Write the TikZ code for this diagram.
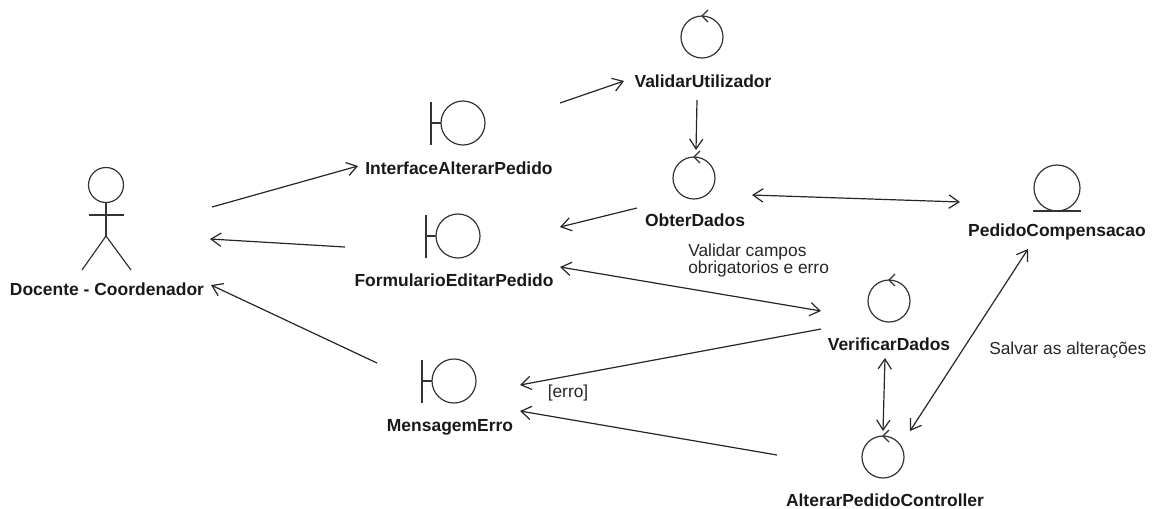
\documentclass[tikz,border=0pt]{standalone}
\usepackage{fontspec}
\setmainfont{Liberation Sans}
\usetikzlibrary{arrows.meta}

\tikzset{
    lbl/.style={font=\bfseries\fontsize{13.1}{15}\selectfont, inner sep=0pt, text=black!90},
    note/.style={font=\fontsize{13}{12.75}\selectfont, inner sep=0pt, align=left, text=black!85},
    icon/.style={line width=0.9pt, draw=black!80},
    flow/.style={line width=0.9pt, draw=black!85, -{Straight Barb[length=7.5pt,width=10pt]}},
    both/.style={line width=0.9pt, draw=black!85, {Straight Barb[length=7.5pt,width=10pt]}-{Straight Barb[length=7.5pt,width=10pt]}},
}

\begin{document}
\begin{tikzpicture}[x=0.75pt,y=-0.75pt]
    \useasboundingbox (0,0) rectangle (1153,508);

    % labels
    \node[lbl] (docente) at (107,289) {Docente - Coordenador};
    \node[lbl] (ifaceAlterar) at (459,168) {InterfaceAlterarPedido};
    \node[lbl] (formEditar) at (454,280) {FormularioEditarPedido};
    \node[lbl] (msgErro) at (450,427) {MensagemErro};
    \node[lbl] (validarUtil) at (703,81) {ValidarUtilizador};
    \node[lbl] (obterDados) at (695,220) {ObterDados};
    \node[lbl] (pedidoComp) at (1057,232) {PedidoCompensacao};
    \node[lbl] (verifDados) at (889,344) {VerificarDados};
    \node[lbl] (alterarCtrl) at (885,500) {AlterarPedidoController};

    % actor
    \draw[icon] (106,185) circle (17.5);
    \draw[icon] (106,202.5) -- (106,236) (89,215) -- (124,215);
    \draw[icon] (82,270) -- (106,236) -- (131,270);

    % boundary
    \foreach \x/\y in {463/123,458/236,454/381}{
        \draw[icon] (\x,\y) circle (22);
        \draw[icon] (\x-32,\y-21.5) -- (\x-32,\y+21.5) (\x-32,\y) -- (\x-22,\y);
    }

    % control
    \foreach \x/\y in {702/37,694/178,889/301,883/457}{
        \draw[icon] (\x,\y) circle (21);
        \draw[icon] (\x+6,\y-27) -- (\x,\y-21) -- (\x+6,\y-15);
    }

    % entity
    \draw[icon] (1057,188) circle (23);
    \draw[icon] (1033,211) -- (1081,211);

    % connectors
    \draw[flow] ([shift={(105,-82)}]docente.center) -- ([shift={(-101,-2)}]ifaceAlterar.center);
    \draw[flow] ([shift={(-109,-33)}]formEditar.center) -- ([shift={(103,-50)}]docente.center);
    \draw[flow] ([shift={(-73,-64)}]msgErro.center) -- ([shift={(104,-4)}]docente.center);
    \draw[flow] ([shift={(101,-65)}]ifaceAlterar.center) -- ([shift={(-79,0)}]validarUtil.center);
    \draw[flow] ([shift={(-6,19)}]validarUtil.center) -- ([shift={(1,-70)}]obterDados.center);
    \draw[flow] ([shift={(-58,-12)}]obterDados.center) -- ([shift={(106,-53)}]formEditar.center);
    \draw[both] ([shift={(57,-25)}]obterDados.center) -- ([shift={(-97,-30)}]pedidoComp.center);
    \draw[both] ([shift={(106,-13)}]formEditar.center) -- ([shift={(-68,-33)}]verifDados.center);
    \draw[flow] ([shift={(-68,-15)}]verifDados.center) -- ([shift={(70,-42)}]msgErro.center);
    \draw[flow] ([shift={(-108,-45)}]alterarCtrl.center) -- ([shift={(70,-16)}]msgErro.center);
    \draw[both] ([shift={(-4,14)}]verifDados.center) -- ([shift={(-2,-69)}]alterarCtrl.center);
    \draw[both] ([shift={(-29,17)}]pedidoComp.center) -- ([shift={(25,-69)}]alterarCtrl.center);

    % texts on the connectors
    \node[note, anchor=west] (notaCampos) at (688,261) {Validar campos\\obrigatorios e erro};
    \node[note] (notaErro) at (568,393) {[erro]};
    \node[note, anchor=west] (notaSalvar) at (989,350) {Salvar as alterações};
\end{tikzpicture}
\end{document}
